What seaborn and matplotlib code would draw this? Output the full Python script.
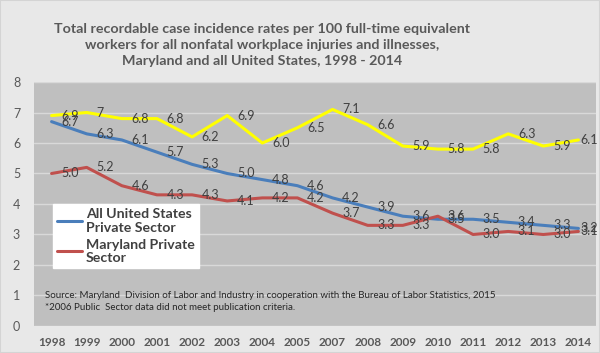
import numpy as np
import matplotlib
matplotlib.use("Agg")
import matplotlib.pyplot as plt
from matplotlib.lines import Line2D
from matplotlib.patches import Rectangle
import pandas as pd
import seaborn as sns

# 2006 is missing on purpose (public sector data not published)
years = ["1998", "1999", "2000", "2001", "2002", "2003", "2004", "2005",
         "2007", "2008", "2009", "2010", "2011", "2012", "2013", "2014"]
us_private = [6.7, 6.3, 6.1, 5.7, 5.3, 5.0, 4.8, 4.6,
              4.2, 3.9, 3.6, 3.5, 3.5, 3.4, 3.3, 3.2]
md_private = [5.0, 5.2, 4.6, 4.3, 4.3, 4.1, 4.2, 4.2,
              3.7, 3.3, 3.3, 3.6, 3.0, 3.1, 3.0, 3.1]
md_public_text = ["6.9", "7", "6.8", "6.8", "6.2", "6.9", "6.0", "6.5",
                  "7.1", "6.6", "5.9", "5.8", "5.8", "6.3", "5.9", "6.1"]
md_public = [float(t) for t in md_public_text]

title = ("Total recordable case incidence rates per 100 full-time equivalent\n"
         "workers for all nonfatal workplace injuries and illnesses,\n"
         "Maryland and all United States, 1998 - 2014")
source = ("Source: Maryland  Division of Labor and Industry in cooperation with the Bureau of Labor Statistics, 2015\n"
          "*2006 Public  Sector data did not meet publication criteria.")

sns.set_style("white")
plt.rcParams["font.family"] = ["Lato", "DejaVu Sans"]

pos = np.arange(len(years))
df = pd.DataFrame({
    "pos": np.tile(pos, 3),
    "rate": us_private + md_private + md_public,
    "series": (["All United States\nPrivate Sector"] * len(years)
               + ["Maryland Private\nSector"] * len(years)
               + ["Maryland Public Sector"] * len(years)),
})
colors = {"All United States\nPrivate Sector": "#4a7ebb",
          "Maryland Private\nSector": "#c0504d",
          "Maryland Public Sector": "#ffff00"}

fig = plt.figure(figsize=(6, 3.53), dpi=100, facecolor="#e8e8e8")
fig.patches.append(Rectangle((0, 0), 1, 1, transform=fig.transFigure,
                             facecolor="none", edgecolor="#d4d4d4", lw=1.5))
ax = fig.add_axes([0.0567, 0.0765, 0.9366, 0.6912])
ax.set_facecolor("#bfbfbf")

sns.lineplot(data=df, x="pos", y="rate", hue="series", palette=colors,
             linewidth=2.2, legend=False, ax=ax, zorder=3)

txt = "#404040"
last = len(years) - 1
for vals, labels in [(us_private, [f"{v:.1f}" for v in us_private]),
                     (md_private, [f"{v:.1f}" for v in md_private]),
                     (md_public, md_public_text)]:
    for x, v, s in zip(pos, vals, labels):
        dx = 1.5 if x == last else 7
        ax.annotate(s, (x, v), xytext=(dx, 0), textcoords="offset points",
                    ha="left", va="center", fontsize=9, color=txt, zorder=4)

ax.set_xlim(-0.5, len(years) - 0.5)
ax.set_ylim(0, 8)
ax.set_yticks(range(0, 9))
ax.yaxis.grid(True, color="#d9d9d9", lw=1)
ax.set_axisbelow(True)
ax.set_xticks(pos)
ax.set_xticklabels(years)
ax.tick_params(axis="x", length=0, pad=8, labelsize=8.5, labelcolor="#595959")
ax.tick_params(axis="y", length=0, pad=10, labelsize=9, labelcolor="#595959")
for lbl in ax.get_xticklabels():
    lbl.set_fontweight("bold")
ax.set_xlabel("")
ax.set_ylabel("")
for sp in ax.spines.values():
    sp.set_visible(False)

names = ["All United States\nPrivate Sector", "Maryland Private\nSector"]
handles = [Line2D([], [], color=colors[k], lw=2.2) for k in names]
leg = ax.legend(handles, names,
                loc="upper left", bbox_to_anchor=(0.034, 0.5), frameon=True,
                fancybox=False, framealpha=1, edgecolor="white",
                prop={"size": 10.2, "weight": "bold"}, labelcolor="#404040",
                handlelength=1.75, handletextpad=0.25, borderpad=0.3,
                borderaxespad=0, labelspacing=0.35)
for t in leg.get_texts():
    t.set_linespacing(1.15)

ax.text(0.02, 0.1, source, transform=ax.transAxes, fontsize=7,
        color="#262626", va="center", ha="left", linespacing=1.4)

fig.text(0.437, 0.872, title, ha="center", va="center", fontsize=10.3,
         fontweight="bold", color="#595959", linespacing=1.4)

fig.savefig("out.png", dpi=100, facecolor=fig.get_facecolor())
